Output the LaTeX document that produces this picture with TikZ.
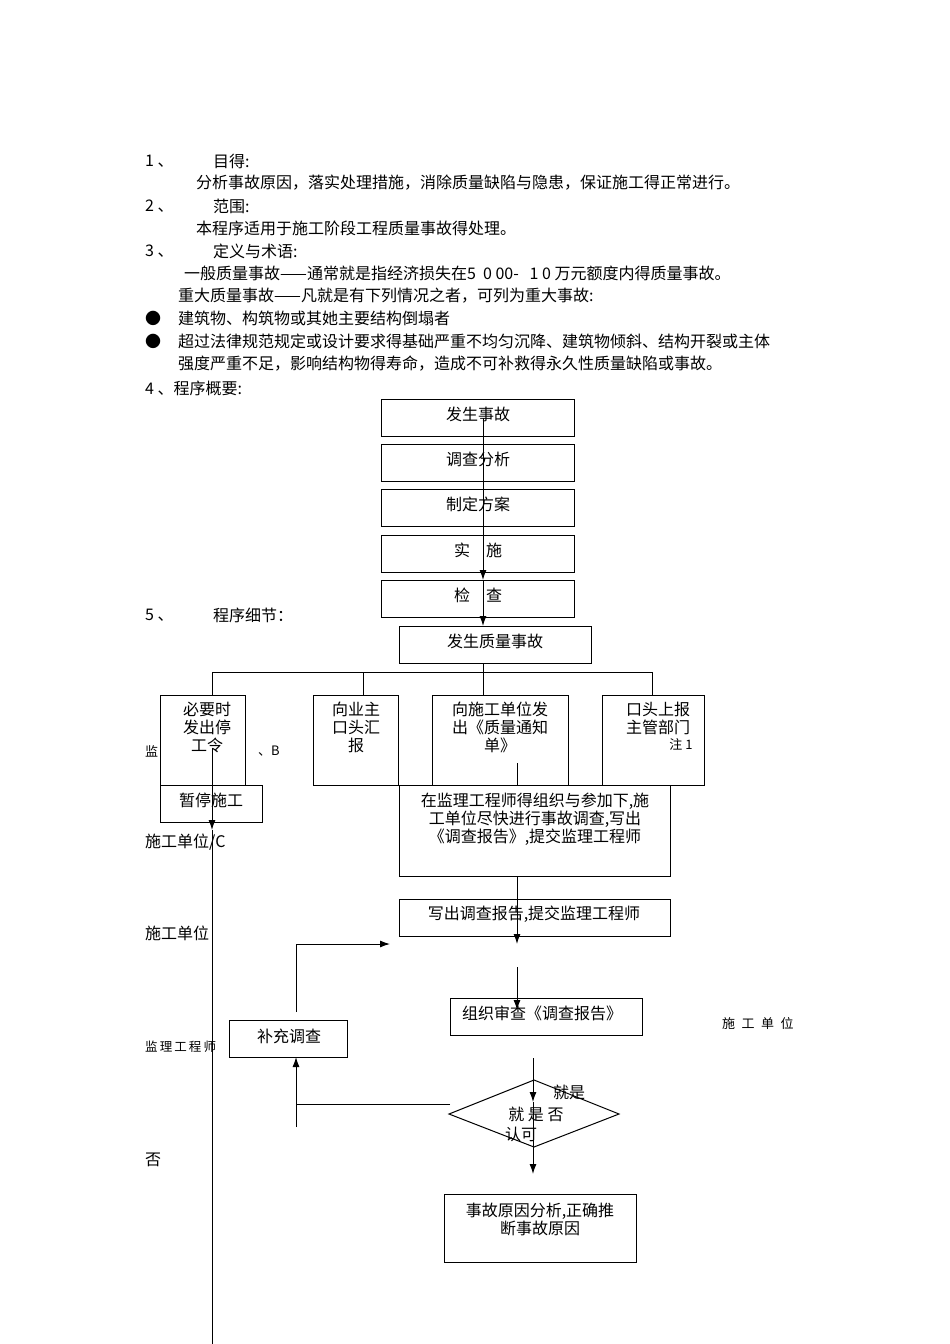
\documentclass[tikz,border=0pt]{standalone}
\usepackage{fontspec}
\setmainfont{Noto Sans CJK SC}
\usetikzlibrary{arrows.meta}
\begin{document}
\begin{tikzpicture}[x=1pt,y=-1pt,
  box/.style={draw,line width=1pt},
  t/.style={font=\fontsize{16}{18}\selectfont,inner sep=0pt},
  ln/.style={line width=1pt},
  ar/.style={line width=1pt,-{Latex[length=10pt,width=7pt]}}]
\useasboundingbox (0,0) rectangle (950,1344);
% text
\foreach \y/\s in {161/{1 、},206/{2 、},251/{3 、}}{\node[t,anchor=west] at (145,\y) {\s};}
\node[t,anchor=west] at (213,161) {目得:};
\node[t,anchor=west] at (196,183) {分析事故原因，落实处理措施，消除质量缺陷与隐患，保证施工得正常进行。};
\node[t,anchor=west] at (213,206) {范围:};
\node[t,anchor=west] at (196,228) {本程序适用于施工阶段工程质量事故得处理。};
\node[t,anchor=west] at (213,251) {定义与术语:};
\node[t,anchor=west] at (184,273) {一般质量事故——通常就是指经济损失在5\ \ 0 00-\ \ \ 1 0\ 万元额度内得质量事故。};
\node[t,anchor=west] at (178,296) {重大质量事故——凡就是有下列情况之者，可列为重大事故:};
\node[t,anchor=west] at (145,318) {●};
\node[t,anchor=west] at (178,318) {建筑物、构筑物或其她主要结构倒塌者};
\node[t,anchor=west] at (145,341) {●};
\node[t,anchor=west] at (178,341) {超过法律规范规定或设计要求得基础严重不均匀沉降、建筑物倾斜、结构开裂或主体};
\node[t,anchor=west] at (178,364) {强度严重不足，影响结构物得寿命，造成不可补救得永久性质量缺陷或事故。};
\node[t,anchor=west] at (145,388) {4 、程序概要:};
\node[t,anchor=west] at (145,615) {5 、};
\node[t,anchor=west] at (213,615) {程序细节：};
% overview boxes
\foreach \n/\y/\s in {a/399/发生事故,b/444/调查分析,c/489/制定方案,d/535/实\quad 施,e/580/检\quad 查}{
  \draw[box] (381,\y) rectangle (574,\y+37);
  \node[t] (\n) at (478,\y+15) {\s};}
\draw[ln] (483,418) -- (483,540);
\draw[ar] (483,540) -- (483,580);
\draw[ar] (483,580) -- (483,626);
% detail
\draw[box] (399,626) rectangle (591,663); \node[t] (q) at (495,641) {发生质量事故};
\draw[ln] (483,663) -- (483,695);
\draw[ln] (212,672) -- (652,672);
\foreach \x in {212,363,652}{\draw[ln] (\x,672) -- (\x,695);}
\draw[box] (160,695) rectangle (245,785);
\node[t,align=center] (s1) at (207,727) {必要时\\发出停\\工令};
\draw[box] (313,695) rectangle (398,785);
\node[t,align=center] (s2) at (356,727) {向业主\\口头汇\\报};
\draw[box] (432,695) rectangle (568,785);
\node[t,align=center] (s3) at (500,727) {向施工单位发\\出《质量通知\\单》};
\draw[box] (602,695) rectangle (704,785);
\node[t,align=center] (s4) at (658,718) {口头上报\\主管部门};
\node[t,font=\fontsize{13}{15}\selectfont] at (681,744) {注 1};
\draw[box] (160,785) rectangle (262,822); \node[t] (p) at (211,800) {暂停施工};
\draw[ln] (212,748) -- (212,790);
\draw[ar] (212,790) -- (212,830);
\draw[ln] (212,830) -- (212,1344);
\draw[box] (399,785) rectangle (670,876);
\node[t,align=center] (inv) at (535,819) {在监理工程师得组织与参加下,施\\工单位尽快进行事故调查,写出\\《调查报告》,提交监理工程师};
\draw[ln] (517,763) -- (517,785);
\draw[box] (399,899) rectangle (670,936); \node[t] (w) at (534,914) {写出调查报告,提交监理工程师};
\draw[ar] (517,876) -- (517,944);
\draw[box] (450,998) rectangle (642,1035); \node[t] (o) at (542,1013) {组织审查《调查报告》};
\draw[ar] (517,967) -- (517,1010);
\draw[box] (229,1020) rectangle (347,1057); \node[t] (bc) at (289,1036) {补充调查};
\draw[ar] (296,1012) -- (296,944) -- (390,944);
\draw[ln] (296,1127) -- (296,1104);
\draw[ar] (450,1104) -- (296,1104) -- (296,1057);
\draw[ln] (449,1114) -- (534,1080) -- (619,1114) -- (534,1147) -- cycle;
\node[t] (dm) at (536,1114) {就 是 否};
\node[t] at (521,1134) {认可};
\node[t] at (569,1092) {就是};
\draw[ar] (533,1058) -- (533,1102);
\draw[ar] (533,1102) -- (533,1174);
\draw[box] (444,1194) rectangle (636,1262);
\node[t,align=center] (r) at (540,1219) {事故原因分析,正确推\\断事故原因};
% side labels
\node[t,anchor=west,font=\fontsize{13}{15}\selectfont] at (145,751) {监};
\node[t,anchor=west,font=\fontsize{13}{15}\selectfont] at (258,751) {、B};
\node[t,anchor=west] at (145,842) {施工单位/C};
\node[t,anchor=west] at (145,933) {施工单位};
\node[t,anchor=west,font=\fontsize{12.5}{14}\selectfont] at (145,1047) {监\,理\,工\,程\,师};
\node[t,anchor=west,font=\fontsize{13}{15}\selectfont] at (722,1024) {施\enspace 工\enspace 单\enspace 位};
\node[t,anchor=west] at (145,1160) {否};
\end{tikzpicture}
\end{document}
